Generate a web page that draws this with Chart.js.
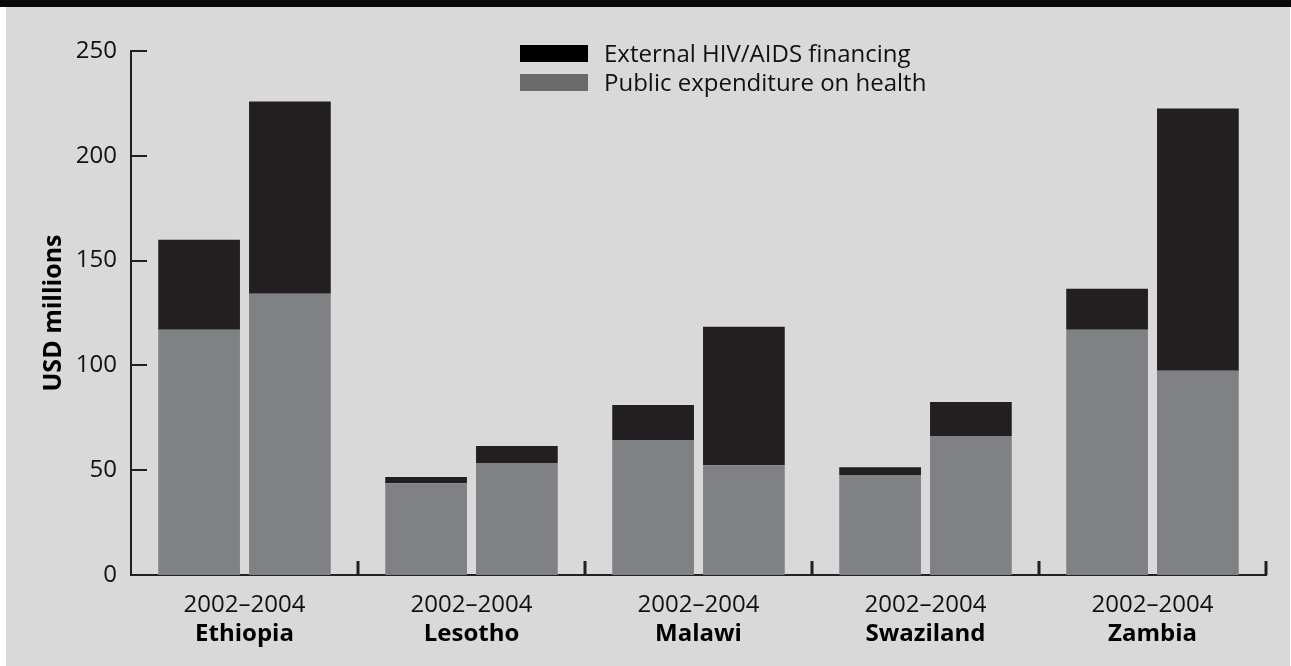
<!DOCTYPE html>
<html>
<head>
<meta charset="utf-8">
<script src="https://cdn.jsdelivr.net/npm/chart.js@4.4.1/dist/chart.umd.min.js"></script>
<style>
  html, body { margin: 0; padding: 0; background: #ffffff; }
  #frame { position: absolute; left: 0; top: 0; width: 1291px; height: 666px; overflow: hidden; }
  #band { position: absolute; left: 0; top: 0; width: 1291px; height: 7px; background: #0a0a0a; }
  #panel { position: absolute; left: 6px; top: 7px; width: 1284px; height: 659px; background: #d9d9d9; }
  #chartBox { position: absolute; left: 0; top: 0; width: 1291px; height: 666px; }
  #legend { position: absolute; left: 520px; top: 45px; font-family: "Open Sans", sans-serif; font-size: 24px; color: #111; }
  #legend .row { position: relative; height: 29px; }
  #legend .sw { position: absolute; left: 0; top: 0; width: 68px; height: 17px; }
  #legend .lbl { position: absolute; left: 84px; top: -7px; white-space: nowrap; line-height: 30px; }
</style>
</head>
<body>
<div id="frame">
  <div id="band"></div>
  <div id="panel"></div>
  <div id="chartBox"><canvas id="fundingChart" width="1291" height="666"></canvas></div>
  <div id="legend"></div>
</div>
<script>
// funding chart

const countries = ['Ethiopia', 'Lesotho', 'Malawi', 'Swaziland', 'Zambia'];
const periodLabels = ['2002\u20132004', '2002\u20132004', '2002\u20132004', '2002\u20132004', '2002\u20132004'];

// USD millions
const public2002 = [117, 43.8, 64.4, 47.7, 117];
const external2002 = [43, 2.9, 16.7, 3.7, 19.6];
const public2004 = [134.2, 53.4, 52.4, 66.3, 97.4];
const external2004 = [91.7, 8.1, 66, 16.2, 125.2];

const yTicks = [0, 50, 100, 150, 200, 250];

const barBlack = '#231f20';
const barGray = '#808185';
const axisColor = '#231f20';

// Legend (HTML, drawn over the plot)
const legendItems = [
    { label: 'External HIV/AIDS financing', color: '#000000' },
    { label: 'Public expenditure on health', color: '#6b6b6d' }
];
const legendBox = document.getElementById('legend');
legendItems.forEach(item => {
    const row = document.createElement('div');
    row.className = 'row';
    const sw = document.createElement('div');
    sw.className = 'sw';
    sw.style.background = item.color;
    const lbl = document.createElement('div');
    lbl.className = 'lbl';
    lbl.textContent = item.label;
    row.appendChild(sw);
    row.appendChild(lbl);
    legendBox.appendChild(row);
});

// inward tick marks on both axes
const innerTicks = {
    id: 'innerTicks',
    afterDraw(chart) {
        const ctx = chart.ctx;
        const area = chart.chartArea;
        const yScale = chart.scales.y;
        const xScale = chart.scales.x;
        ctx.save();
        ctx.strokeStyle = axisColor;

        ctx.lineWidth = 2;
        yTicks.forEach(v => {
            if (v === 0) return;
            const py = Math.round(yScale.getPixelForValue(v));
            ctx.beginPath();
            ctx.moveTo(area.left, py);
            ctx.lineTo(area.left + 16, py);
            ctx.stroke();
        });

        ctx.lineWidth = 3;
        const n = countries.length;
        for (let i = 1; i <= n; i++) {
            let px;
            if (i < n) {
                px = (xScale.getPixelForTick(i - 1) + xScale.getPixelForTick(i)) / 2;
            } else {
                px = area.right;
            }
            ctx.beginPath();
            ctx.moveTo(px, area.bottom);
            ctx.lineTo(px, area.bottom - 14);
            ctx.stroke();
        }
        ctx.restore();
    }
};

const fundingCtx = document.getElementById('fundingChart').getContext('2d');
const fundingChart = new Chart(fundingCtx, {
    type: 'bar',
    data: {
        labels: periodLabels,
        datasets: [
            { label: 'Public 2002', data: public2002, backgroundColor: barGray, stack: 'a' },
            { label: 'External 2002', data: external2002, backgroundColor: barBlack, stack: 'a' },
            { label: 'Public 2004', data: public2004, backgroundColor: barGray, stack: 'b' },
            { label: 'External 2004', data: external2004, backgroundColor: barBlack, stack: 'b' }
        ]
    },
    options: {
        responsive: false,
        animation: false,
        events: [],
        layout: { padding: { left: 0, right: 25, top: 51, bottom: 11 } },
        datasets: {
            bar: { categoryPercentage: 0.80, barPercentage: 0.90, borderWidth: 0 }
        },
        plugins: {
            legend: { display: false },
            tooltip: { enabled: false }
        },
        scales: {
            x: {
                stacked: true,
                offset: true,
                grid: { display: false, drawTicks: false },
                border: { display: true, color: axisColor, width: 2 },
                ticks: {
                    color: '#111',
                    padding: 16,
                    maxRotation: 0,
                    font: { family: 'Open Sans', size: 24 }
                },
                afterFit(scale) { scale.height = 45; }
            },
            x2: {
                type: 'category',
                labels: countries,
                position: 'bottom',
                offset: true,
                grid: { display: false, drawTicks: false },
                border: { display: false },
                ticks: {
                    color: '#000',
                    padding: 0,
                    maxRotation: 0,
                    font: { family: 'Open Sans', size: 24, weight: 'bold' }
                },
                afterFit(scale) { scale.height = 35; }
            },
            y: {
                stacked: true,
                min: 0,
                max: 250,
                afterBuildTicks(scale) { scale.ticks = yTicks.map(v => ({ value: v })); },
                grid: { display: false, drawTicks: false },
                border: { display: true, color: axisColor, width: 2 },
                ticks: {
                    color: '#111',
                    padding: 14,
                    font: { family: 'Open Sans', size: 24 }
                },
                title: {
                    display: true,
                    text: 'USD millions',
                    color: '#000',
                    padding: { top: 39, bottom: 0 },
                    font: { family: 'Open Sans', size: 25, weight: 'bold' }
                },
                afterFit(scale) { scale.width = 131; }
            }
        }
    },
    plugins: [innerTicks]
});
</script>
</body>
</html>
